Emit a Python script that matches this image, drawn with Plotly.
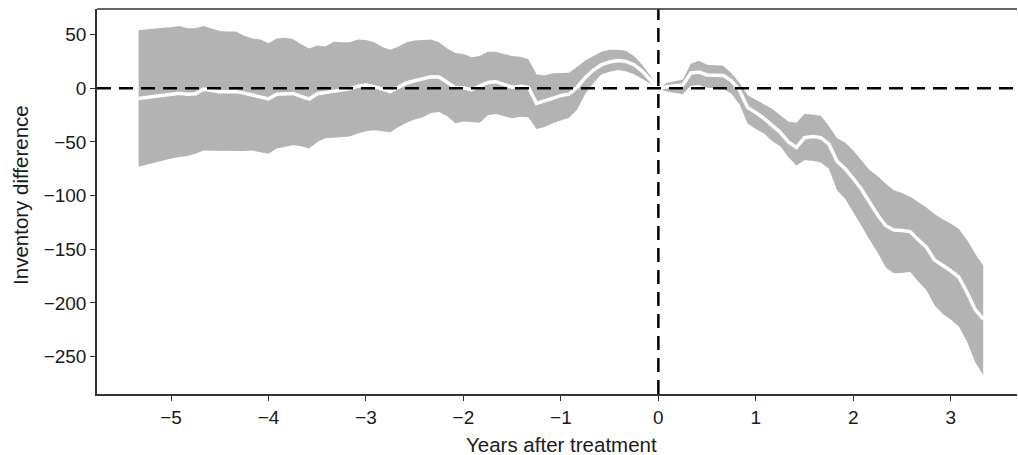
import plotly.graph_objects as go

# months relative to treatment, -64 .. 40
months = list(range(-64, 41))

upper = [54, 55, 55.5, 56.5, 57, 58, 56, 56, 58, 56,
         53.5, 53, 53, 49, 46.5, 45.5, 42, 46.5, 47, 46,
         41, 37, 40, 39, 43.5, 43, 43, 45.5, 45, 43,
         38.5, 36, 39, 43, 44.5, 45, 45.5, 43, 37, 33,
         32, 29, 30, 34, 34, 32, 30, 29.5, 27, 13,
         12, 14, 14.6, 14.6, 20, 26, 30, 34, 36, 36,
         35, 30, 22, 12, 0,
         5, 6.5, 8, 23, 25.8, 22, 21.7, 21, 14, 5,
         -6.5, -10.5, -14.5, -19, -25, -31, -32, -24, -24.3, -25.5,
         -35, -46.5, -50.5, -58, -67, -76, -82, -89, -95, -97.5,
         -101, -106, -111, -117, -122, -126, -131, -141, -154, -165]

lower = [-73, -71, -69, -67, -65.5, -64, -63, -61, -58, -58.2,
         -58.4, -58.5, -58.7, -58.5, -58, -59.5, -61, -56, -54.5, -53,
         -54, -56, -50, -46.5, -46, -45.5, -45, -42, -40, -39,
         -40, -41, -36, -32, -29, -27, -23, -22, -26, -32.5,
         -31, -31.5, -32, -25, -24, -26, -28, -26.5, -27, -38,
         -36, -32.5, -30, -27.5, -20, -5, 5, 13, 15.5, 17,
         16, 13, 9, 4.5, 0,
         -3, -4, -5.5, 2.5, 3.1, 0.5, 0, -0.5, -5, -15,
         -33, -38, -42, -49, -54, -64, -72, -67, -67.5, -69,
         -75, -95, -103, -115, -128, -141, -153, -167, -172.4, -172,
         -171, -180, -188, -202, -210, -215.5, -222, -236, -255, -267]

mean = [-9.5, -8.5, -7.5, -6.5, -5.5, -4.7, -5.5, -5, -0.8, -2,
        -3.1, -3.1, -3.1, -4.5, -6.2, -8, -9.8, -5.5, -5, -4.8,
        -7.5, -10, -5, -4, -3.2, -2, -0.5, 2, 3, 1.6,
        -1, -3, 1, 5, 7, 9, 10.8, 10.5, 5, 0.5,
        0.6, -1.5, 2, 5.5, 6.2, 3.5, 1, 2, 1, -14,
        -11.5, -8.5, -6.8, -5.3, 1, 10, 17, 22, 24.5, 25.8,
        25, 22, 16, 8, 0,
        1.5, 2.3, 3, 14.3, 15.2, 12.5, 12.4, 12, 7, -2,
        -18, -22.5, -28, -34, -41, -50, -55, -46, -45, -46,
        -52, -68, -75, -84, -94, -106, -118, -128, -132, -132.4,
        -133.5, -141, -148, -160, -165, -170, -176, -190, -206, -215]

x_ticks = [-5, -4, -3, -2, -1, 0, 1, 2, 3]
y_ticks = [50, 0, -50, -100, -150, -200, -250]


def fmt(v):
    return ("\u2212" + str(-v)) if v < 0 else str(v)


years = [m / 12 for m in months]

fig = go.Figure()
fig.add_trace(go.Scatter(x=years, y=upper, mode="lines", line=dict(width=0, color="#b3b3b3"),
                         showlegend=False, hoverinfo="skip"))
fig.add_trace(go.Scatter(x=years, y=lower, mode="lines", line=dict(width=0, color="#b3b3b3"),
                         fill="tonexty", fillcolor="#b3b3b3", showlegend=False, hoverinfo="skip"))
fig.add_trace(go.Scatter(x=years, y=mean, mode="lines", line=dict(width=3.5, color="white"),
                         showlegend=False))

fig.add_hline(y=0, line=dict(color="black", width=2.5, dash="14px,8px"))
fig.add_vline(x=0, line=dict(color="black", width=2.5, dash="14px,8px"))

axis_common = dict(showgrid=False, zeroline=False, showline=True, linecolor="#333333",
                   linewidth=1.5, ticks="outside", ticklen=5, tickcolor="#333333",
                   automargin=False, tickfont=dict(size=19, color="#1a1a1a"))

fig.update_layout(
    width=1018, height=455,
    margin=dict(l=97, r=1, t=9, b=61),
    plot_bgcolor="white", paper_bgcolor="white",
    font=dict(family="Liberation Sans, Arial, sans-serif", size=19, color="#1a1a1a"),
    xaxis=dict(range=[-5.76, 3.68], tickvals=x_ticks, ticktext=[fmt(v) for v in x_ticks],
               **axis_common),
    yaxis=dict(range=[-284.8, 73.9], tickvals=y_ticks, ticktext=[fmt(v) for v in y_ticks],
               **axis_common),
    annotations=[
        dict(text="Years after treatment", xref="paper", yref="paper", x=0.5054, y=-0.13,
             xanchor="center", yanchor="middle", showarrow=False, font=dict(size=20.5)),
        dict(text="Inventory difference", xref="paper", yref="paper", x=-0.0826, y=0.517,
             xanchor="center", yanchor="middle", textangle=-90, showarrow=False,
             font=dict(size=20.5)),
    ],
)
# top border line
fig.add_shape(type="line", xref="paper", yref="paper", x0=0, x1=1, y0=1, y1=1,
              line=dict(color="#333333", width=1.5))

fig.write_html("out.html", config={"displayModeBar": False},
               post_script="document.body.style.margin='0';")
